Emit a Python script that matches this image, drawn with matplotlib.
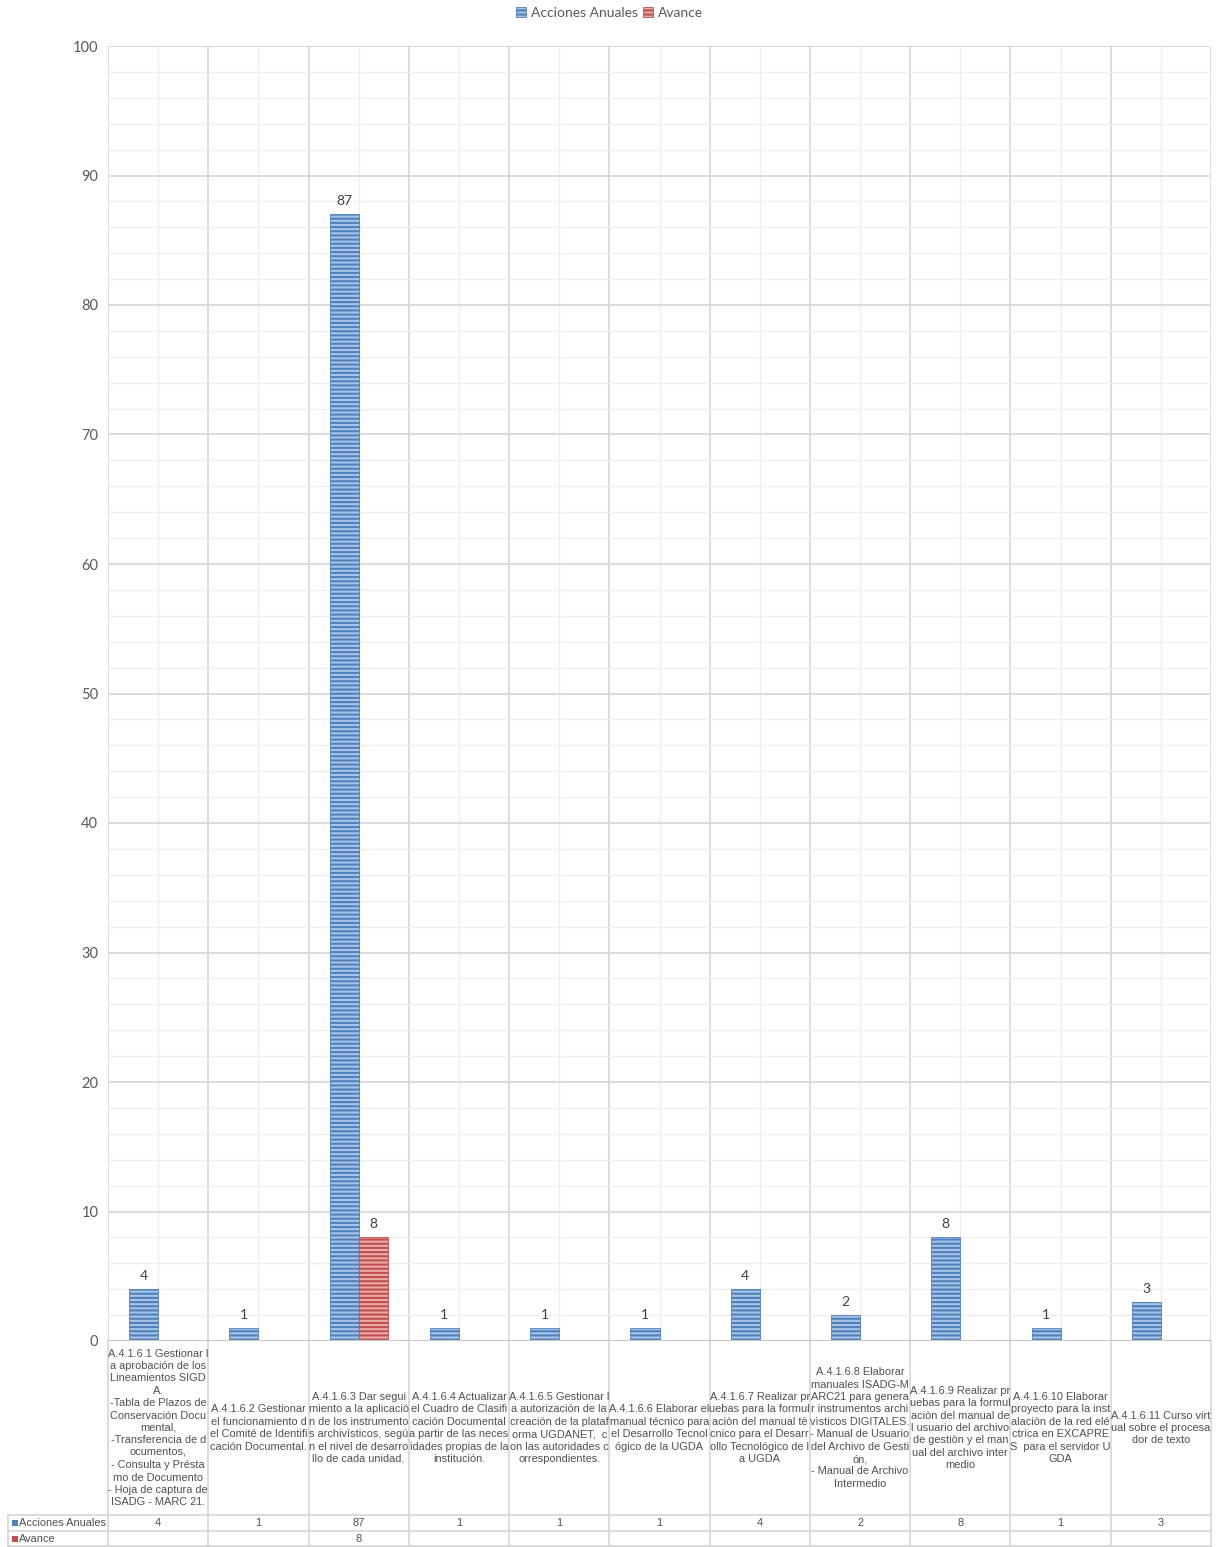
import matplotlib
matplotlib.use("Agg")
import matplotlib.pyplot as plt
from matplotlib.patches import Patch, Rectangle
from matplotlib.lines import Line2D
from matplotlib.transforms import blended_transform_factory
import numpy as np

categories = [
    "A.4.1.6.1 Gestionar l\na aprobación de los\nLineamientos SIGD\nA.\n-Tabla de Plazos de\nConservación Docu\nmental,\n-Transferencia de d\nocumentos,\n- Consulta y Présta\nmo de Documento\n- Hoja de captura de\nISADG - MARC 21.",
    "A.4.1.6.2 Gestionar\nel funcionamiento d\nel Comité de Identifi\ncación Documental.",
    "A.4.1.6.3 Dar segui\nmiento a la aplicació\nn de los instrumento\ns archivísticos, segú\nn el nivel de desarro\nllo de cada unidad.",
    "A.4.1.6.4 Actualizar\nel Cuadro de Clasifi\ncación Documental\na partir de las neces\nidades propias de la\ninstitución.",
    "A.4.1.6.5 Gestionar l\na autorización de la\ncreación de la plataf\norma UGDANET,  c\non las autoridades c\norrespondientes.",
    "A.4.1.6.6 Elaborar el\nmanual técnico para\nel Desarrollo Tecnol\nógico de la UGDA",
    "A.4.1.6.7 Realizar pr\nuebas para la formul\naciòn del manual tè\ncnico para el Desarr\nollo Tecnológico de l\na UGDA",
    "A.4.1.6.8 Elaborar\nmanuales ISADG-M\nARC21 para genera\nr instrumentos archi\nvìsticos DIGITALES.\n- Manual de Usuario\ndel Archivo de Gesti\nón,\n- Manual de Archivo\nIntermedio",
    "A.4.1.6.9 Realizar pr\nuebas para la formul\naciòn del manual de\nl usuario del archivo\nde gestiòn y el man\nual del archivo inter\nmedio",
    "A.4.1.6.10 Elaborar\nproyecto para la inst\nalaciòn de la red elé\nctrica en EXCAPRE\nS  para el servidor U\nGDA",
    "A.4.1.6.11 Curso virt\nual sobre el procesa\ndor de texto",
]
acciones_anuales = [4, 1, 87, 1, 1, 1, 4, 2, 8, 1, 3]
avance = [None, None, 8, None, None, None, None, None, None, None, None]
series_names = ["Acciones Anuales", "Avance"]
y_ticks = [0, 10, 20, 30, 40, 50, 60, 70, 80, 90, 100]

W, H = 1219, 1547
fig = plt.figure(figsize=(W / 100, H / 100), dpi=100)
fx = lambda p: p / W
fy = lambda p: 1 - p / H

L, R, T, B = 108, 1211, 46, 1341
ax = fig.add_axes([fx(L), fy(B), fx(R) - fx(L), fy(T) - fy(B)])

blue_face, blue_edge = "#a9c3e6", "#4f81bd"
red_face, red_edge = "#eaa9a8", "#c0504d"
plt.rcParams["hatch.linewidth"] = 1.5

n = len(categories)
x = np.arange(n)
bw = 0.29
av_vals = [v if v is not None else 0 for v in avance]
ax.bar(x - bw / 2, acciones_anuales, bw, facecolor=blue_face, edgecolor=blue_edge,
       hatch="----", linewidth=0.6, zorder=3)
ax.bar(x + bw / 2, av_vals, bw, facecolor=red_face, edgecolor=red_edge,
       hatch="----", linewidth=0.6, zorder=3)

lab_font = dict(family="Lato", fontsize=10, color="#404040")
for i, v in enumerate(acciones_anuales):
    ax.annotate(str(v), (x[i] - bw / 2, v), xytext=(0, 5), textcoords="offset points",
                ha="center", va="bottom", **lab_font)
for i, v in enumerate(avance):
    if v is not None:
        ax.annotate(str(v), (x[i] + bw / 2, v), xytext=(0, 5), textcoords="offset points",
                    ha="center", va="bottom", **lab_font)

ax.set_xlim(-0.5, n - 0.5)
ax.set_ylim(0, 100)
ax.set_yticks(y_ticks)
ax.set_yticks(np.arange(0, 101, 2), minor=True)
ax.set_xticks(np.arange(-0.5, n, 1.0))
ax.set_xticks(x, minor=True)
ax.tick_params(axis="both", which="both", length=0)
ax.tick_params(axis="y", pad=7, labelsize=10.5, labelcolor="#595959")
for t in ax.get_yticklabels():
    t.set_family("Lato")
ax.set_xticklabels([])
ax.set_xticklabels([], minor=True)
ax.grid(which="major", color="#d9d9d9", linewidth=1.3, zorder=0)
ax.grid(which="minor", color="#efefef", linewidth=1.0, zorder=0)
ax.set_axisbelow(True)
for s in ax.spines.values():
    s.set_visible(False)
ax.axhline(0, color="#c8c8c8", linewidth=1.5, zorder=4)

# data table
tr = blended_transform_factory(ax.transData, fig.transFigure)
grid_c = "#d9d9d9"
row1, row2, row3 = 1515, 1531, 1546
for b in np.arange(-0.5, n, 1.0):
    ax.add_line(Line2D([b, b], [fy(B), fy(row3)], transform=tr, color=grid_c, lw=1.3, clip_on=False))
for yy in [row1, row2, row3]:
    fig.add_artist(Line2D([fx(8), fx(R)], [fy(yy), fy(yy)], color=grid_c, lw=1.3))
fig.add_artist(Line2D([fx(8), fx(8)], [fy(row1), fy(row3)], color=grid_c, lw=1.3))

tfont = dict(family="Liberation Sans", fontsize=7.9, color="#505050")
for i, c in enumerate(categories):
    ax.text(x[i], fy((B + row1) / 2), c, transform=tr, ha="center", va="center",
            linespacing=1.3, clip_on=False, **tfont)
for i, v in enumerate(acciones_anuales):
    ax.text(x[i], fy((row1 + row2) / 2), str(v), transform=tr, ha="center", va="center",
            clip_on=False, **tfont)
for i, v in enumerate(avance):
    if v is not None:
        ax.text(x[i], fy((row2 + row3) / 2), str(v), transform=tr, ha="center", va="center",
                clip_on=False, **tfont)

for yy, nm, col in [((row1 + row2) / 2, series_names[0], blue_edge),
                    ((row2 + row3) / 2, series_names[1], red_edge)]:
    fig.add_artist(Rectangle((fx(12), fy(yy + 3)), fx(6), 6 / H, facecolor=col, edgecolor="none"))
    fig.text(fx(19), fy(yy), nm, ha="left", va="center", **tfont)

# legend
handles = [Patch(facecolor=blue_face, edgecolor=blue_edge, hatch="----", linewidth=0.6),
           Patch(facecolor=red_face, edgecolor=red_edge, hatch="----", linewidth=0.6)]
leg = fig.legend(handles, series_names, loc="center", bbox_to_anchor=(0.5, fy(13)), ncol=2,
                 frameon=False, handlelength=0.7, handleheight=0.7, handletextpad=0.35,
                 columnspacing=0.4, prop=dict(family="Lato", size=10))
for t in leg.get_texts():
    t.set_color("#595959")

fig.savefig("out.png", dpi=100, facecolor="white")
